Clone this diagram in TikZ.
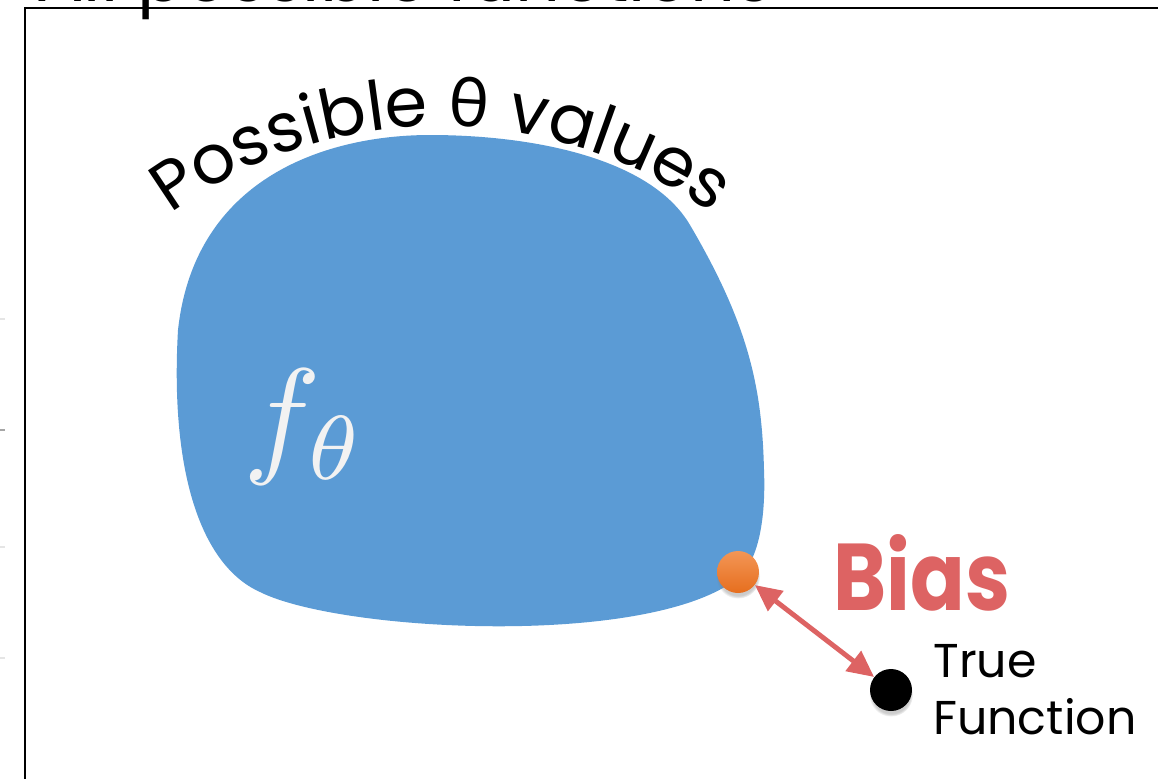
\documentclass[tikz,border=0pt]{standalone}
\usepackage{fontspec}
\setmainfont{Poppins}
\newfontfamily\thetafont{Lato}
\usepackage{graphicx}
\usetikzlibrary{arrows.meta, decorations.text, shadows}
\definecolor{blobblue}{RGB}{91,155,213}
\definecolor{biasred}{RGB}{221,99,99}
\definecolor{dotlight}{RGB}{243,150,86}
\definecolor{dotdark}{RGB}{230,110,30}
\definecolor{fwhite}{RGB}{242,242,242}

\begin{document}
\begin{tikzpicture}[
  x=0.02cm, y=-0.02cm,
  blob/.style={fill=blobblue, draw=none},
  frame/.style={draw=black, line width=1.1pt},
  ball/.style={circle, inner sep=0pt, minimum size=0.84cm, circular drop shadow={shadow xshift=0pt, shadow yshift=-2.5pt, shadow scale=1.05, opacity=0.4}},
  truetext/.style={font=\fontsize{27}{32}\selectfont, align=left, anchor=base west, inner sep=0pt},
  biasarr/.style={{Triangle[length=15pt, width=14pt]}-{Triangle[length=15pt, width=14pt]}, draw=biasred, line width=2.8pt}
]
\useasboundingbox (0,0) rectangle (1158,778);
\clip (0,0) rectangle (1158,778);

\node[anchor=base west, inner sep=0pt, font=\fontsize{40}{44}\selectfont] (title) at (36,1) {All possible functions};
\draw[frame] (25,800) -- (25,8) -- (1170,8);
\foreach \ty in {319,547,658}
  \draw[gray!20, line width=0.8pt] (0,\ty) -- (5,\ty);
\draw[gray!70, line width=1.2pt] (0,430) -- (5,430);

\fill[blob] (430,135) .. controls (330,135) and (195,175) .. (178,330)
  .. controls (170,470) and (200,565) .. (260,592)
  .. controls (340,632) and (650,648) .. (738,578)
  .. controls (758,562) and (766,520) .. (764,470)
  .. controls (762,390) and (750,327) .. (690,225)
  .. controls (650,157) and (530,135) .. (430,135) -- cycle;

\path[decorate, decoration={text along path, text align=center,
  text={|\fontsize{39}{44}\selectfont|Possible |\thetafont\fontsize{39}{44}\selectfont|θ|\rmfamily\fontsize{39}{44}\selectfont| values}}]
  (441,586) ++(-127:460) arc[start angle=-127, end angle=-53, radius=460];

\node[text=fwhite, inner sep=0pt] (ftheta) at (305,427) {\scalebox{7.4}{$f_\theta$}};

\node[ball, top color=dotlight, bottom color=dotdark] (est) at (738,572) {};
\node[ball, fill=black] (truefn) at (891,690) {};
\draw[biasarr] (est) -- (truefn);

\node[anchor=base west, inner sep=0pt, text=biasred, font=\bfseries\fontsize{54}{58}\selectfont] (bias) at (833,610) {\scalebox{0.85}[1]{Bias}};
\node[truetext] (truelbl) at (933,734) {True\\Function};
\end{tikzpicture}
\end{document}
